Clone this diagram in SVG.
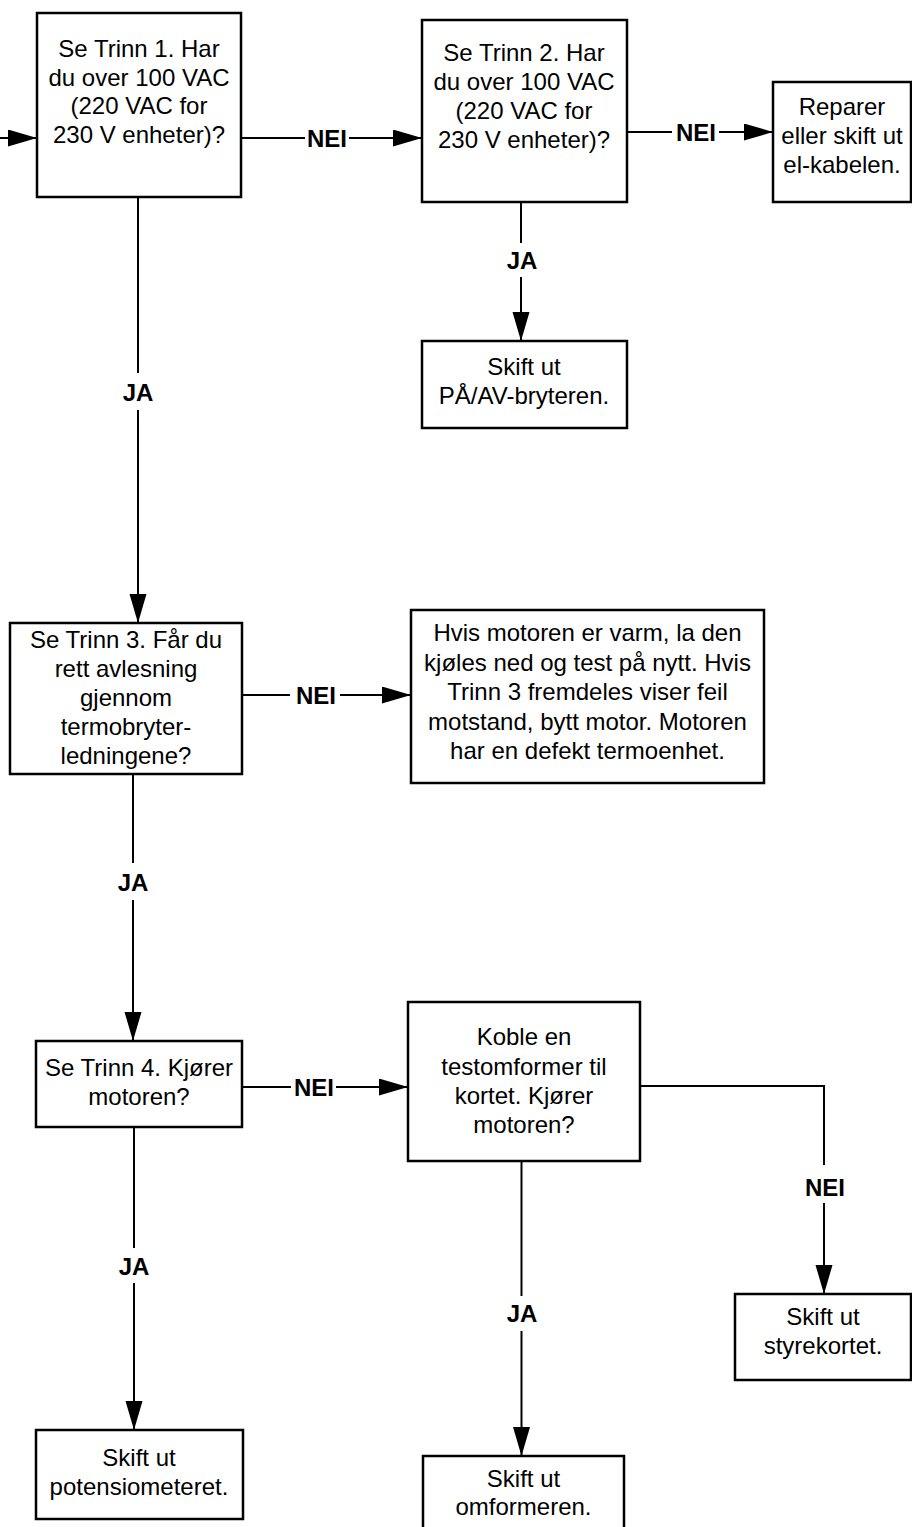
<svg xmlns="http://www.w3.org/2000/svg" width="912" height="1527" viewBox="0 0 912 1527">
<style>
.box{fill:#fff;stroke:#000;stroke-width:2.5}
.t{font-family:"Liberation Sans",Arial,sans-serif;font-size:24px;text-anchor:middle;fill:#000}
.lbl{font-family:"Liberation Sans",Arial,sans-serif;font-size:24px;font-weight:bold;text-anchor:middle;fill:#000}
.ln{fill:none;stroke:#000;stroke-width:2}
.ar{fill:none;stroke:#000;stroke-width:2;marker-end:url(#ah)}
</style>
<defs>
<marker id="ah" markerUnits="userSpaceOnUse" markerWidth="30" markerHeight="18" refX="29" refY="8.5" orient="auto">
<polygon points="0,0 29,8.5 0,17" fill="#000"/>
</marker>
</defs>
<rect width="912" height="1527" fill="#fff"/>
<g id="connectors">
<line class="ar" x1="0" y1="138" x2="37" y2="138"/>
<line class="ln" x1="241" y1="138" x2="305" y2="138"/>
<line class="ar" x1="349" y1="138" x2="422" y2="138"/>
<line class="ln" x1="627" y1="132" x2="672" y2="132"/>
<line class="ar" x1="719" y1="132" x2="773" y2="132"/>
<line class="ln" x1="521" y1="202" x2="521" y2="243"/>
<line class="ar" x1="521" y1="277" x2="521" y2="341"/>
<line class="ln" x1="138" y1="197" x2="138" y2="373"/>
<line class="ar" x1="138" y1="410" x2="138" y2="623"/>
<line class="ln" x1="242" y1="695" x2="290" y2="695"/>
<line class="ar" x1="340" y1="695" x2="411" y2="695"/>
<line class="ln" x1="133" y1="774" x2="133" y2="863"/>
<line class="ar" x1="133" y1="900" x2="133" y2="1041"/>
<line class="ln" x1="242" y1="1087" x2="291" y2="1087"/>
<line class="ar" x1="336" y1="1087" x2="408" y2="1087"/>
<polyline class="ln" points="640,1086 824,1086 824,1165"/>
<line class="ar" x1="824" y1="1203" x2="824" y2="1294"/>
<line class="ln" x1="134" y1="1127" x2="134" y2="1248"/>
<line class="ar" x1="134" y1="1283" x2="134" y2="1430"/>
<line class="ln" x1="521.5" y1="1161" x2="521.5" y2="1296"/>
<line class="ar" x1="521.5" y1="1331" x2="521.5" y2="1456"/>
<text class="lbl" x="327" y="146.5">NEI</text>
<text class="lbl" x="696" y="140.5">NEI</text>
<text class="lbl" x="522" y="268.5">JA</text>
<text class="lbl" x="138" y="400.5">JA</text>
<text class="lbl" x="316" y="703.5">NEI</text>
<text class="lbl" x="133" y="890.5">JA</text>
<text class="lbl" x="314" y="1095.5">NEI</text>
<text class="lbl" x="825" y="1195.5">NEI</text>
<text class="lbl" x="134" y="1275">JA</text>
<text class="lbl" x="522" y="1321.5">JA</text>
</g>
<g id="n1">
<rect class="box" x="37" y="13" width="204" height="184"/>
<text class="t" x="139" y="57">Se Trinn 1. Har</text>
<text class="t" x="139" y="85.5">du over 100 VAC</text>
<text class="t" x="139" y="114">(220 VAC for</text>
<text class="t" x="139" y="142.5">230 V enheter)?</text>
</g>
<g id="n2">
<rect class="box" x="422" y="20" width="205" height="182"/>
<text class="t" x="524" y="61">Se Trinn 2. Har</text>
<text class="t" x="524" y="90">du over 100 VAC</text>
<text class="t" x="524" y="119">(220 VAC for</text>
<text class="t" x="524" y="148">230 V enheter)?</text>
</g>
<g id="n3">
<rect class="box" x="773" y="82" width="138" height="120"/>
<text class="t" x="842" y="114.5">Reparer</text>
<text class="t" x="842" y="143.5">eller skift ut</text>
<text class="t" x="842" y="172.5">el-kabelen.</text>
</g>
<g id="n4">
<rect class="box" x="422" y="341" width="205" height="87"/>
<text class="t" x="524" y="375">Skift ut</text>
<text class="t" x="524" y="404">PÅ/AV-bryteren.</text>
</g>
<g id="n5">
<rect class="box" x="10" y="623" width="232" height="151"/>
<text class="t" x="126" y="648">Se Trinn 3. Får du</text>
<text class="t" x="126" y="677">rett avlesning</text>
<text class="t" x="126" y="706">gjennom</text>
<text class="t" x="126" y="735">termobryter-</text>
<text class="t" x="126" y="764">ledningene?</text>
</g>
<g id="n6">
<rect class="box" x="411" y="610" width="353" height="173"/>
<text class="t" x="587.5" y="641">Hvis motoren er varm, la den</text>
<text class="t" x="587.5" y="670.5">kjøles ned og test på nytt. Hvis</text>
<text class="t" x="587.5" y="700">Trinn 3 fremdeles viser feil</text>
<text class="t" x="587.5" y="729.5">motstand, bytt motor. Motoren</text>
<text class="t" x="587.5" y="759">har en defekt termoenhet.</text>
</g>
<g id="n7">
<rect class="box" x="36" y="1041" width="206" height="86"/>
<text class="t" x="139" y="1076">Se Trinn 4. Kjører</text>
<text class="t" x="139" y="1104.5">motoren?</text>
</g>
<g id="n8">
<rect class="box" x="408" y="1002" width="232" height="159"/>
<text class="t" x="524" y="1045">Koble en</text>
<text class="t" x="524" y="1074.5">testomformer til</text>
<text class="t" x="524" y="1104">kortet. Kjører</text>
<text class="t" x="524" y="1133">motoren?</text>
</g>
<g id="n9">
<rect class="box" x="735" y="1294" width="176" height="86"/>
<text class="t" x="823" y="1325">Skift ut</text>
<text class="t" x="823" y="1354">styrekortet.</text>
</g>
<g id="n10">
<rect class="box" x="36" y="1430" width="207" height="89"/>
<text class="t" x="139" y="1466">Skift ut</text>
<text class="t" x="139" y="1495">potensiometeret.</text>
</g>
<g id="n11">
<rect class="box" x="423" y="1456" width="201" height="80"/>
<text class="t" x="523.5" y="1486.5">Skift ut</text>
<text class="t" x="523.5" y="1515">omformeren.</text>
</g>
</svg>
